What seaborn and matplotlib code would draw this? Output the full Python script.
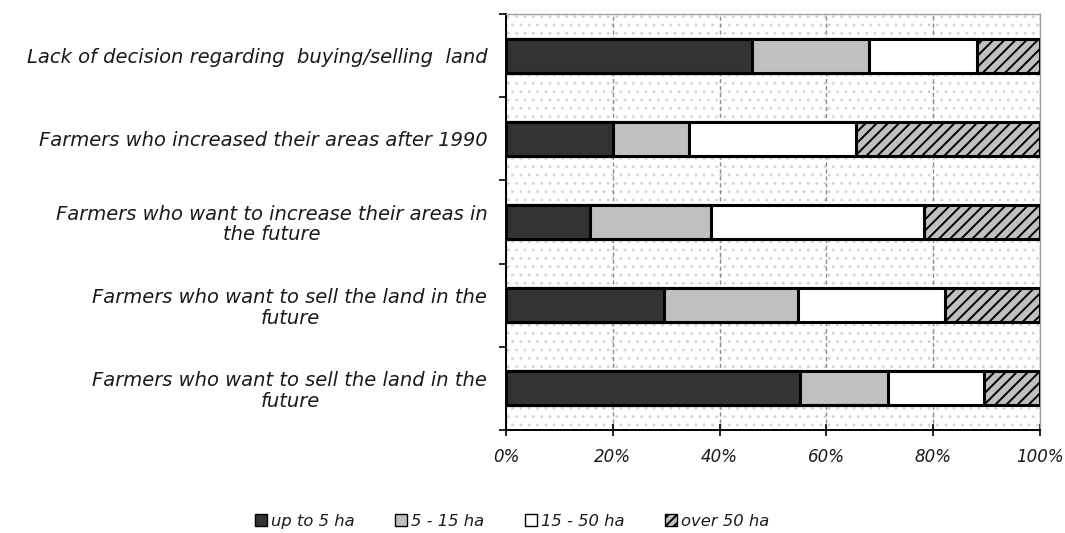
import numpy as np
import pandas as pd
import matplotlib
matplotlib.use("Agg")
import matplotlib.pyplot as plt
import seaborn as sns
from matplotlib.patches import Rectangle, Patch
from matplotlib.ticker import FixedLocator

categories = [
    "Lack of decision regarding  buying/selling  land",
    "Farmers who increased their areas after 1990",
    "Farmers who want to increase their areas in\nthe future",
    "Farmers who want to sell the land in the\nfuture",
    "Farmers who want to sell the land in the\nfuture",
]
series_names = ["up to 5 ha", "5 - 15 ha", "15 - 50 ha", "over 50 ha"]
up_to_5 = [46.0, 20.0, 15.7, 29.6, 55.1]
ha_5_15 = [22.0, 14.2, 22.6, 25.1, 16.4]
ha_15_50 = [20.2, 31.4, 40.0, 27.6, 18.1]
over_50 = [11.8, 34.4, 21.7, 17.7, 10.4]
xtick_labels = ["0%", "20%", "40%", "60%", "80%", "100%"]

sns.set_style("white")
plt.rcParams["font.family"] = ["DejaVu Sans"]
plt.rcParams["hatch.linewidth"] = 1.4

FS_LAB = 14.0
FS_TICK = 12
FS_LEG = 11.8
TXT = "#1a1a1a"

keys = [f"c{i}" for i in range(len(categories))]
df = pd.DataFrame({"key": keys, "s1": up_to_5, "s2": ha_5_15, "s3": ha_15_50, "s4": over_50})
df["c1"] = df["s1"]
df["c2"] = df["c1"] + df["s2"]
df["c3"] = df["c2"] + df["s3"]
df["c4"] = df["c3"] + df["s4"]

fig = plt.figure(figsize=(10.65, 5.33), dpi=100)
ax = fig.add_axes([506 / 1065, 1 - 430 / 533, (1040 - 506) / 1065, (430 - 14) / 533])

# dotted background
bg = Rectangle((0, 0), 1, 1, transform=ax.transAxes, facecolor="white",
               edgecolor="#d2d2d2", hatch="..", linewidth=0, zorder=0)
try:
    bg.set_hatch_linewidth(0.8)
except Exception:
    pass
ax.add_patch(bg)
ax.set_facecolor("white")

colors = {"c4": "#c0c0c0", "c3": "#ffffff", "c2": "#c0c0c0", "c1": "#333333"}
hatches = {"c4": "///", "c3": None, "c2": None, "c1": None}
for col in ["c4", "c3", "c2", "c1"]:
    sns.barplot(data=df, x=col, y="key", order=keys, orient="h", width=0.41,
                color=colors[col], saturation=1, edgecolor="black", linewidth=2.2,
                hatch=hatches[col], ax=ax, zorder=3)

ax.set_xlim(0, 100)
ax.set_ylim(len(keys) - 0.5, -0.5)
ax.set_xticks([0, 20, 40, 60, 80, 100])
ax.set_xticklabels(xtick_labels, fontstyle="italic", fontsize=FS_TICK, color=TXT)
ax.set_yticks(range(len(keys)))
ax.set_yticklabels(categories, fontstyle="italic", fontsize=FS_LAB, color=TXT,
                   multialignment="center", linespacing=1.1)
ax.yaxis.set_minor_locator(FixedLocator(np.arange(-0.5, len(keys), 1.0)))
ax.tick_params(axis="y", which="major", length=0, pad=13.5)
ax.tick_params(axis="y", which="minor", length=5, width=1.2, color="black", direction="out", left=True)
ax.tick_params(axis="x", which="major", length=8, width=1.2, color="black", direction="inout",
               bottom=True, pad=9)
ax.set_xlabel("")
ax.set_ylabel("")

ax.grid(axis="x", linestyle=(0, (3, 2)), color="#8c8c8c", linewidth=1, zorder=1)
ax.set_axisbelow(True)

for s in ["left", "bottom"]:
    ax.spines[s].set_color("black")
    ax.spines[s].set_linewidth(1.4)
for s in ["top", "right"]:
    ax.spines[s].set_color("#a0a0a0")
    ax.spines[s].set_linewidth(1)

handles = [
    Patch(facecolor="#333333", edgecolor="black", linewidth=1),
    Patch(facecolor="#c0c0c0", edgecolor="black", linewidth=1),
    Patch(facecolor="#ffffff", edgecolor="black", linewidth=1),
    Patch(facecolor="#c0c0c0", edgecolor="black", linewidth=1, hatch="////"),
]
leg = fig.legend(handles, series_names, loc="center left", bbox_to_anchor=(240 / 1065, 0.022),
                 ncol=4, frameon=False, handlelength=0.75, handleheight=0.75,
                 handletextpad=0.25, columnspacing=2.45,
                 prop={"style": "italic", "size": FS_LEG}, labelcolor=TXT)

fig.savefig("out.png", dpi=100)
